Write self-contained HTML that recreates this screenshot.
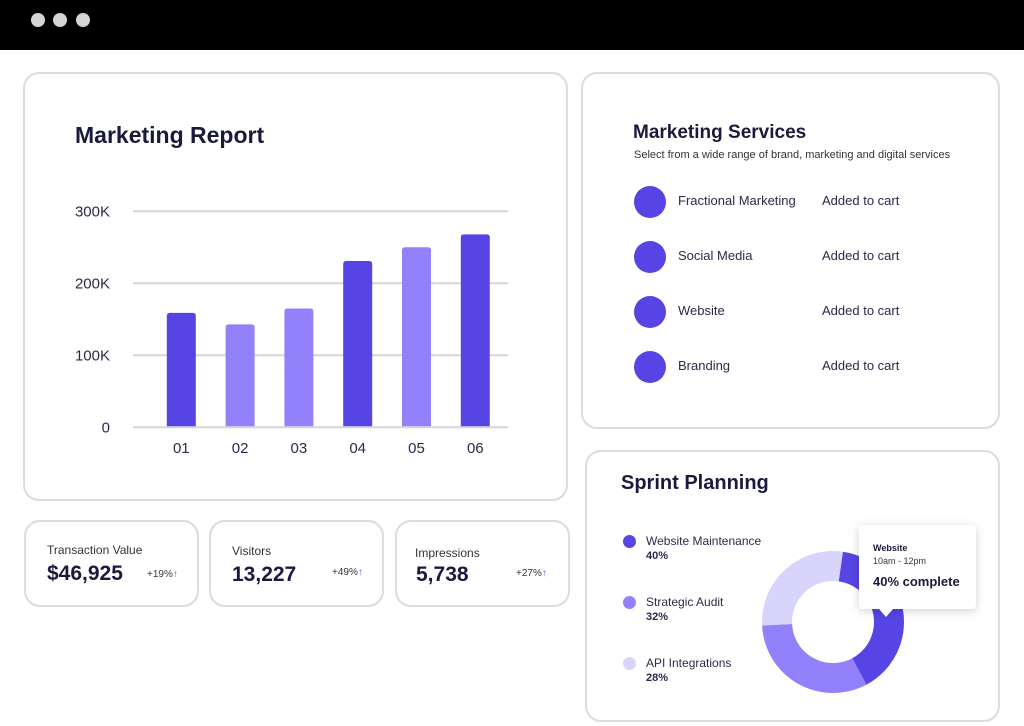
<!DOCTYPE html>
<html><head><meta charset="utf-8"><style>
*{margin:0;padding:0;box-sizing:border-box}
body{width:1024px;height:726px;background:#fff;font-family:"Liberation Sans",sans-serif;color:#1b1a3d;position:relative;overflow:hidden}
.card{position:absolute;border:2px solid #dcdcdc;border-radius:16px;background:#fff}
.abs{position:absolute;white-space:nowrap}
.dot{position:absolute;border-radius:50%}
</style></head><body>
<div style="position:absolute;left:0;top:0;width:1024px;height:50px;background:#000">
 <div class="dot" style="left:31px;top:13px;width:14px;height:14px;background:#d4d4d4"></div>
 <div class="dot" style="left:53px;top:13px;width:14px;height:14px;background:#d4d4d4"></div>
 <div class="dot" style="left:76px;top:13px;width:14px;height:14px;background:#d4d4d4"></div>
</div>

<div class="card" style="left:23px;top:72px;width:545px;height:429px"></div>
<div class="abs" style="left:75px;top:122px;font-size:23px;font-weight:bold">Marketing Report</div>
<svg id="bar" width="1024" height="726" style="position:absolute;left:0;top:0"></svg>

<div class="card" style="left:581px;top:72px;width:419px;height:357px"></div>
<div class="abs" style="left:633px;top:122px;font-size:19px;font-weight:bold">Marketing Services</div>
<div class="abs" style="left:634px;top:149px;font-size:11px;color:#333">Select from a wide range of brand, marketing and digital services</div>
<div id="services"></div>

<div class="card" style="left:24px;top:520px;width:175px;height:87px"></div>
<div class="abs" style="left:47px;top:543px;font-size:12px;color:#333">Transaction Value</div>
<div class="abs" style="left:47px;top:562px;font-size:21px;font-weight:bold">$46,925</div>
<div class="abs" style="left:147px;top:569px;font-size:10px;color:#333">+19%<span style="color:#6b55f0">↑</span></div>
<div class="card" style="left:209px;top:520px;width:175px;height:87px"></div>
<div class="abs" style="left:232px;top:544px;font-size:12px;color:#333">Visitors</div>
<div class="abs" style="left:232px;top:563px;font-size:21px;font-weight:bold">13,227</div>
<div class="abs" style="left:332px;top:567px;font-size:10px;color:#333">+49%<span style="color:#6b55f0">↑</span></div>
<div class="card" style="left:395px;top:520px;width:175px;height:87px"></div>
<div class="abs" style="left:415px;top:546px;font-size:12px;color:#333">Impressions</div>
<div class="abs" style="left:416px;top:563px;font-size:21px;font-weight:bold">5,738</div>
<div class="abs" style="left:516px;top:568px;font-size:10px;color:#333">+27%<span style="color:#6b55f0">↑</span></div>

<div class="card" style="left:585px;top:450px;width:415px;height:272px"></div>
<div class="abs" style="left:621px;top:472px;font-size:20px;font-weight:bold">Sprint Planning</div>
<div id="legend"></div>
<svg id="donut" width="1024" height="726" style="position:absolute;left:0;top:0"></svg>
<div style="position:absolute;left:859px;top:525px;width:117px;height:84px;background:#fff;border-radius:4px;box-shadow:0 2px 10px rgba(0,0,0,.18)">
 <div class="abs" style="left:14px;top:18px;font-size:9px;font-weight:bold">Website</div>
 <div class="abs" style="left:14px;top:31px;font-size:9px;color:#333">10am - 12pm</div>
 <div class="abs" style="left:14px;top:49px;font-size:13px;font-weight:bold">40% complete</div>
 <div style="position:absolute;left:20px;top:84px;width:0;height:0;border-left:7px solid transparent;border-right:7px solid transparent;border-top:8px solid #fff"></div>
</div>

<script>
const NS="http://www.w3.org/2000/svg";
const categories=["01","02","03","04","05","06"];
const values=[159,143,165,231,250,268];
const barColors=["#5645e4","#9281fa","#9281fa","#5645e4","#9281fa","#5645e4"];
const yTicks=[0,100,200,300];
const yTickLabels=["0","100K","200K","300K"];
const y=v=>427.3-v*0.72;
const x=i=>181.3+i*58.8;
const bar=document.getElementById('bar');
function mk(p,tag,a){const e=document.createElementNS(NS,tag);for(const k in a)e.setAttribute(k,a[k]);p.appendChild(e);return e;}
yTicks.forEach((t,i)=>{
 const l=mk(bar,'line',{x1:133,x2:508,y1:y(t),y2:y(t),stroke:'#d6d6d9','stroke-width':2});
 
 
 const tx=mk(bar,'text',{x:110,y:y(t)+5,'text-anchor':'end','font-size':15,fill:'#2b2a4a','font-family':'Liberation Sans'});
 tx.textContent=yTickLabels[i];
 
 
});
values.forEach((v,i)=>{
 const r=mk(bar,'path',{fill:barColors[i],d:`M${x(i)-14.5},${y(0)-1} V${y(v)+3} q0,-3 3,-3 H${x(i)+11.5} q3,0 3,3 V${y(0)-1} Z`});
 
 
 const tx=mk(bar,'text',{x:x(i),y:453,'text-anchor':'middle','font-size':15,fill:'#2b2a4a','font-family':'Liberation Sans'});
 tx.textContent=categories[i];
 
 
});

const services=["Fractional Marketing","Social Media","Website","Branding"];
const sv=document.getElementById('services');
services.forEach((s,i)=>{
 const top=186+i*55;
 const d=document.createElement('div');d.className='dot';
 d.style.cssText=`left:634px;top:${top}px;width:32px;height:32px;background:#5645e4`;
 
 
 sv.appendChild(d);
 const t=document.createElement('div');t.className='abs';t.textContent=s;
 t.style.cssText=`left:678px;top:${top+7}px;font-size:13px;color:#2b2a4a`;
 
 
 sv.appendChild(t);
 const c=document.createElement('div');c.className='abs';c.textContent='Added to cart';
 c.style.cssText=`left:822px;top:${top+7}px;font-size:13px;color:#2b2a4a`;
 
 
 sv.appendChild(c);
});

const sliceLabels=["Website Maintenance","Strategic Audit","API Integrations"];
const slicePcts=[40,32,28];
const sliceColors=["#5645e4","#9281fa","#d9d4fb"];
const lg=document.getElementById('legend');
sliceLabels.forEach((s,i)=>{
 const top=535+i*61;
 const d=document.createElement('div');d.className='dot';
 d.style.cssText=`left:623px;top:${top}px;width:13px;height:13px;background:${sliceColors[i]}`;
 
 
 lg.appendChild(d);
 const t=document.createElement('div');t.className='abs';t.textContent=s;
 t.style.cssText=`left:646px;top:${top-1}px;font-size:12px;color:#2b2a4a`;
 
 
 lg.appendChild(t);
 const p=document.createElement('div');p.className='abs';p.textContent=slicePcts[i]+'%';
 p.style.cssText=`left:646px;top:${top+15}px;font-size:11px;font-weight:bold;color:#2b2a4a`;
 
 
 lg.appendChild(p);
});
const dn=document.getElementById('donut');
const cx=833,cy=622,R=71,r0=41;
let a=8;
const tot=slicePcts.reduce((s,v)=>s+v,0);
function pt(rad,deg){const t=(deg-90)*Math.PI/180;return [cx+rad*Math.cos(t),cy+rad*Math.sin(t)];}
slicePcts.forEach((v,i)=>{
 const sweep=v/tot*360,b=a+sweep,lf=sweep>180?1:0;
 const [x1,y1]=pt(R,a),[x2,y2]=pt(R,b),[x3,y3]=pt(r0,b),[x4,y4]=pt(r0,a);
 const p=mk(dn,'path',{fill:sliceColors[i],d:`M${x1},${y1} A${R},${R} 0 ${lf} 1 ${x2},${y2} L${x3},${y3} A${r0},${r0} 0 ${lf} 0 ${x4},${y4} Z`});
 
 
 a=b;
});
</script>
</body></html>
